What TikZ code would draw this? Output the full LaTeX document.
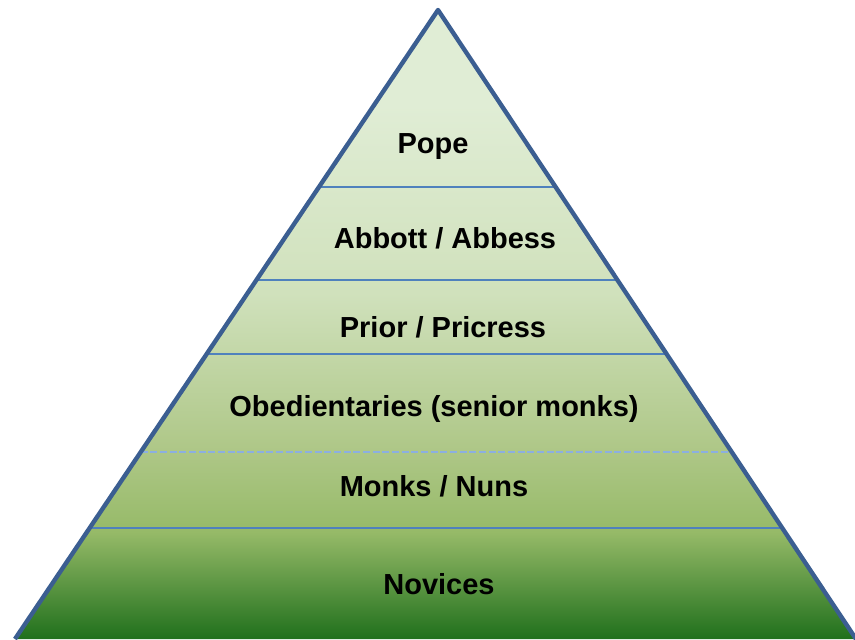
\documentclass[tikz,border=0pt]{standalone}
\usepackage{fontspec}
\setmainfont{Liberation Sans}
\usetikzlibrary{calc}
\definecolor{edgeblue}{RGB}{59,94,145}
\definecolor{rowblue}{RGB}{79,129,189}
\definecolor{dashblue}{RGB}{140,175,225}
\definecolor{lightgreen}{RGB}{224,237,213}
\definecolor{palegreen}{RGB}{208,225,188}
\definecolor{midgreen}{RGB}{174,199,135}
\definecolor{deepgreen}{RGB}{150,186,104}
\definecolor{darkgreen}{RGB}{32,112,28}
\pgfdeclareverticalshading{pyramidfill}{100bp}{color(0bp)=(darkgreen); color(25bp)=(darkgreen); color(33.5bp)=(deepgreen); color(40bp)=(midgreen); color(52.5bp)=(palegreen); color(67.5bp)=(lightgreen); color(100bp)=(lightgreen)}
\tikzset{
  rank/.style={font=\bfseries\fontsize{16.5}{19}\selectfont, text=black},
  divider/.style={draw=rowblue, line width=0.9pt},
}
\begin{document}
\begin{tikzpicture}[x=0.02cm,y=-0.02cm]
      \useasboundingbox (0,0) rectangle (855,639);
      \coordinate (apex) at (438,10);
      \coordinate (left) at (15,639);
      \coordinate (right) at (856,639);
      \shade[shading=pyramidfill] (apex) -- (left) -- (right) -- cycle;
      % row dividers
      \draw[divider] ($(apex)!0.2814!(left)$) -- ($(apex)!0.2814!(right)$);
      \draw[divider] ($(apex)!0.4293!(left)$) -- ($(apex)!0.4293!(right)$);
      \draw[divider] ($(apex)!0.5469!(left)$) -- ($(apex)!0.5469!(right)$);
      \draw[draw=dashblue, line width=0.9pt, dash pattern=on 4pt off 1.5pt] ($(apex)!0.7027!(left)$) -- ($(apex)!0.7027!(right)$);
      \draw[divider] ($(apex)!0.8235!(left)$) -- ($(apex)!0.8235!(right)$);
      \draw[edgeblue, line width=2.5pt, line join=round] (left) -- (apex) -- (right);
      \draw
        (433,147) node[rank] (pope){Pope}
        (445,238) node[rank] (abbott){Abbott / Abbess}
        (443,327) node[rank] (prior){Prior / Pricress}
        (434,409) node[rank] (obed){Obedientaries (senior monks)}
        (434,486) node[rank] (monks){Monks / Nuns}
        (439,584) node[rank] (novices){Novices};
    \end{tikzpicture}
\end{document}
